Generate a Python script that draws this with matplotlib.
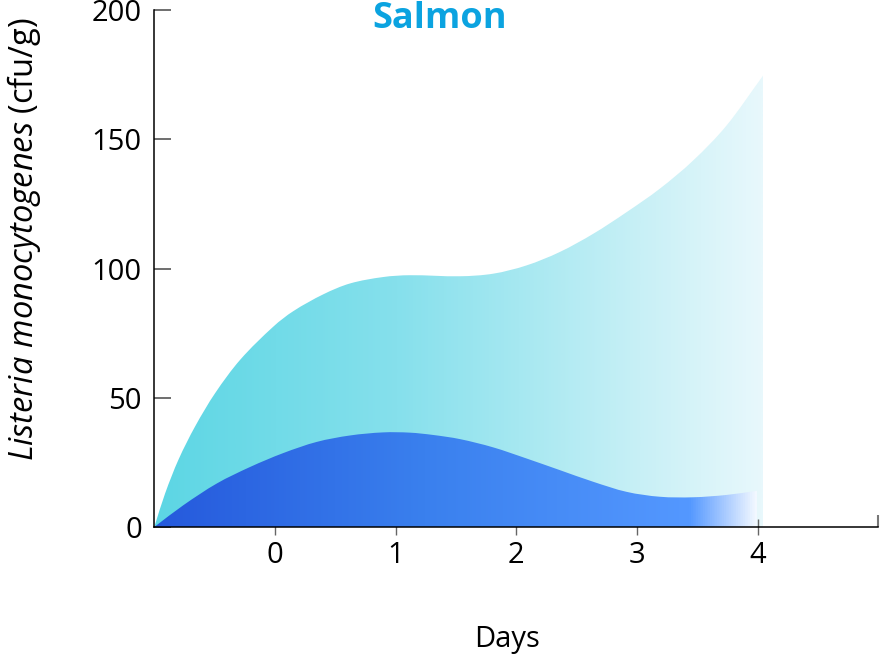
import numpy as np
import matplotlib
matplotlib.use("Agg")
import matplotlib.pyplot as plt
from matplotlib.colors import LinearSegmentedColormap
from matplotlib.patches import PathPatch
from matplotlib.path import Path

plt.rcParams["font.family"] = ["Open Sans", "DejaVu Sans"]
plt.rcParams["mathtext.fontset"] = "custom"
plt.rcParams["mathtext.it"] = "Open Sans:italic"
plt.rcParams["mathtext.rm"] = "Open Sans"

# values (days, cfu/g)
upper_days = [-1.0, -0.911, -0.801, -0.663, -0.497, -0.29, -0.014, 0.152, 0.4,
              0.621, 0.897, 1.118, 1.533, 1.809, 2.085, 2.361, 2.64, 2.914,
              3.19, 3.466, 3.742, 4.046]
upper_vals = [0.0, 12.9, 25.9, 38.8, 51.7, 64.6, 77.5, 83.5, 90.0,
              94.2, 96.7, 97.4, 97.0, 98.0, 101.2, 106.4, 113.5, 121.8,
              130.9, 141.8, 155.3, 174.7]

lower_days = [-1.0, -0.76, -0.483, -0.207, 0.069, 0.345, 0.621, 0.897, 1.118,
              1.311, 1.533, 1.809, 2.085, 2.361, 2.637, 2.914, 3.19, 3.466,
              3.742, 3.996]
lower_vals = [0.0, 8.4, 16.8, 23.2, 28.6, 32.9, 35.4, 36.6, 36.5,
              35.6, 34.0, 30.8, 26.5, 22.0, 17.5, 13.6, 11.7, 11.5,
              12.4, 14.0]

x_ticks = [0, 1, 2, 3, 4]
y_ticks = [0, 50, 100, 150, 200]

upper_colors = [(0.0, "#5cd6e4"), (0.4, "#86e0ec"), (0.6, "#a6e8f1"),
                (0.8, "#c8f0f6"), (1.0, "#e8f8fc")]
lower_colors = [(0.0, "#2559dc"), (0.45, "#3a80ee"), (0.89, "#5498ff"),
                (0.94, "#9cc3ff"), (1.0, "#f2f8ff")]


def smooth_area_path(xs, ys):
    # area under the curve; bezier segments through the read points,
    # tangents taken from neighbouring points along x
    x = np.asarray(xs, float)
    y = np.asarray(ys, float)
    n = len(x)
    m = np.empty(n)
    m[0] = (y[1] - y[0]) / (x[1] - x[0])
    m[-1] = (y[-1] - y[-2]) / (x[-1] - x[-2])
    m[1:-1] = (y[2:] - y[:-2]) / (x[2:] - x[:-2])
    verts = [(x[0], 0.0), (x[0], y[0])]
    codes = [Path.MOVETO, Path.LINETO]
    for i in range(n - 1):
        h = x[i + 1] - x[i]
        verts += [(x[i] + h / 3, y[i] + m[i] * h / 3),
                  (x[i + 1] - h / 3, y[i + 1] - m[i + 1] * h / 3),
                  (x[i + 1], y[i + 1])]
        codes += [Path.CURVE4] * 3
    verts += [(x[-1], 0.0), (x[0], 0.0)]
    codes += [Path.LINETO, Path.CLOSEPOLY]
    return Path(verts, codes)


def gradient_area(ax, xs, ys, stops, z):
    patch = PathPatch(smooth_area_path(xs, ys), facecolor="none", edgecolor="none")
    ax.add_patch(patch)
    cmap = LinearSegmentedColormap.from_list("g", stops)
    grad = np.linspace(0, 1, 512).reshape(1, -1)
    im = ax.imshow(grad, cmap=cmap, extent=[xs[0], xs[-1], 0, max(ys) + 2],
                   aspect="auto", origin="lower", zorder=z,
                   interpolation="bilinear")
    im.set_clip_path(patch)


fig = plt.figure(figsize=(8.83, 6.59), dpi=100)
ax = fig.add_axes([154.3 / 883, 132 / 659, 724 / 883, 517 / 659])

gradient_area(ax, upper_days, upper_vals, upper_colors, 1)
gradient_area(ax, lower_days, lower_vals, lower_colors, 2)

ax.set_xlim(-1, 5)
ax.set_ylim(0, 200)

ax.spines["top"].set_visible(False)
ax.spines["right"].set_visible(False)
ax.spines["left"].set_linewidth(1.1)
ax.spines["bottom"].set_linewidth(1.1)
for s in ax.spines.values():
    s.set_zorder(5)

ax.set_xticks(x_ticks)
ax.set_xticklabels([str(t) for t in x_ticks])
ax.set_xticks([5], minor=True)
ax.set_yticks(y_ticks)
ax.set_yticklabels([str(t) for t in y_ticks])
ax.tick_params(axis="x", which="major", direction="inout", length=12,
               width=1, color="#666666", labelsize=21, pad=4)
ax.tick_params(axis="x", which="minor", direction="in", length=9,
               width=1.5, color="#777777")
ax.tick_params(axis="y", direction="in", length=12, width=1.2,
               color="#555555", labelsize=21, pad=9)

fig.text(440 / 883, 1 - 19 / 659, "Salmon", color="#0ba3e0",
         fontsize=26, fontweight="bold", ha="center", va="center")
fig.text(507 / 883, 1 - 639 / 659, "Days", fontsize=21,
         ha="center", va="center")
fig.text(24 / 883, 1 - 239 / 659,
         r"$\it{Listeria\ monocytogenes}$ (cfu/g)", fontsize=23.5,
         rotation=90, ha="center", va="center")

fig.savefig("out.png", dpi=100)
